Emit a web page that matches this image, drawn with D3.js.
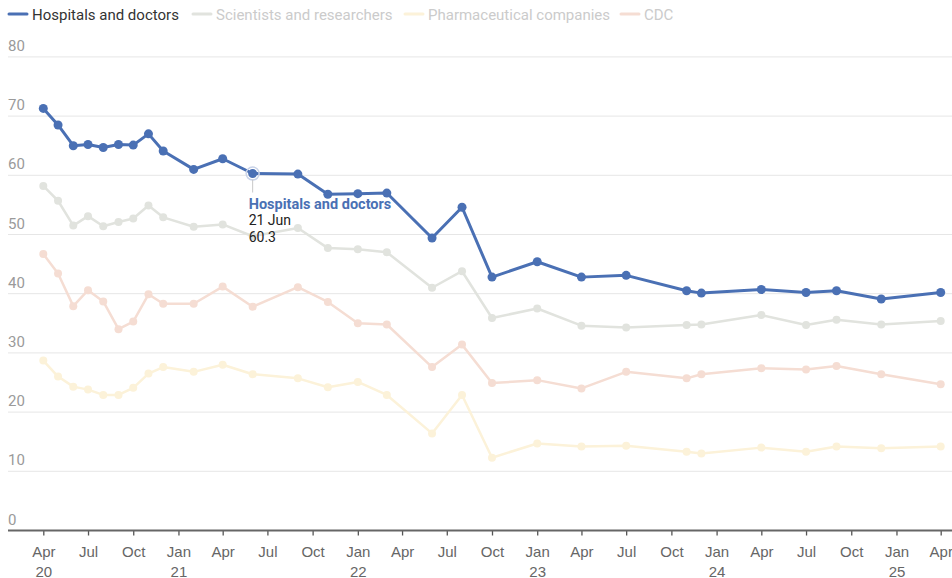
<!DOCTYPE html>
<html><head><meta charset="utf-8">
<script src="https://cdn.jsdelivr.net/npm/d3@7"></script>
<style>
html,body{margin:0;padding:0;background:#fff;}
svg{display:block;font-family:Roboto,"Noto Sans",sans-serif;}
</style></head>
<body><svg id="chart" width="952" height="578"></svg>
<script>
const dates = ["2020-04","2020-05","2020-06","2020-07","2020-08","2020-09","2020-10","2020-11","2020-12","2021-02","2021-04","2021-06","2021-09","2021-11","2022-01","2022-03","2022-06","2022-08","2022-10","2023-01","2023-04","2023-07","2023-11","2023-12","2024-04","2024-07","2024-09","2024-12","2025-04"];
const hospitals = [71.3,68.5,65.0,65.2,64.7,65.2,65.1,67.0,64.1,61.0,62.8,60.3,60.2,56.8,56.9,57.0,49.4,54.6,42.8,45.4,42.8,43.1,40.5,40.1,40.7,40.2,40.5,39.1,40.2];
const scientists = [58.2,55.7,51.5,53.1,51.4,52.1,52.7,54.9,52.9,51.3,51.7,49.7,51.1,47.7,47.5,47.0,41.0,43.8,35.9,37.5,34.6,34.3,34.7,34.8,36.4,34.7,35.6,34.8,35.4];
const pharma = [28.7,26.0,24.3,23.8,22.9,22.9,24.1,26.5,27.6,26.8,28.0,26.4,25.7,24.2,25.1,22.9,16.4,22.9,12.3,14.7,14.2,14.3,13.3,13.0,14.0,13.3,14.2,13.9,14.2];
const cdc = [46.7,43.4,37.9,40.6,38.7,34.0,35.3,39.9,38.3,38.3,41.2,37.8,41.1,38.6,35.0,34.8,27.6,31.4,24.9,25.4,24.0,26.8,25.7,26.4,27.4,27.2,27.8,26.4,24.7];
const seriesNames = ["Hospitals and doctors","Scientists and researchers","Pharmaceutical companies","CDC"];
const yTicks = [0,10,20,30,40,50,60,70,80];
const monthNames = ["Jan","Feb","Mar","Apr","May","Jun","Jul","Aug","Sep","Oct","Nov","Dec"];
const tooltipIndex = 11;

const parse = d3.timeParse("%Y-%m");
const svg = d3.select("#chart");
const x = d3.scaleTime().domain([parse("2020-04"), parse("2025-04")]).range([43.3, 940.7]);
const y = d3.scaleLinear().domain([0, 80]).range([530.5, 56.9]);

const series = [
  {name: seriesNames[1], values: scientists, color: "#e1e3de", text: "#cbcbcb", w: 2.5, r: 4},
  {name: seriesNames[2], values: pharma, color: "#fcf2d9", text: "#cbcbcb", w: 2.5, r: 4},
  {name: seriesNames[3], values: cdc, color: "#f5ddd3", text: "#cbcbcb", w: 2.5, r: 4},
  {name: seriesNames[0], values: hospitals, color: "#4a70b4", text: "#333333", w: 3, r: 4.5}
];

// gridlines + y labels
const grid = svg.append("g");
yTicks.forEach(t => {
  if (t > 0) grid.append("line").attr("x1", 8).attr("x2", 952).attr("y1", y(t)).attr("y2", y(t))
    .attr("stroke", "#e6e6e6").attr("stroke-width", 1);
  grid.append("text").attr("x", 8).attr("y", y(t) - 6).text(t)
    .attr("font-size", 15).attr("fill", "#9a9a9a");
});

// x axis
const xAxis = d3.axisBottom(x).ticks(d3.timeMonth.every(3)).tickSize(5).tickSizeOuter(0)
  .tickFormat(() => "");
const ax = svg.append("g").attr("transform", `translate(0,${y(0)})`).call(xAxis);
ax.select(".domain").remove();
ax.selectAll(".tick line").attr("stroke", "#555").attr("stroke-width", 1.3);
ax.selectAll(".tick text").remove();
ax.selectAll(".tick").each(function(d, i) {
  const g = d3.select(this);
  const t = g.append("text").attr("text-anchor", "middle").attr("fill", "#666").attr("font-size", 15);
  t.append("tspan").attr("x", 0).attr("y", 26.5).text(monthNames[d.getMonth()]);
  if (d.getMonth() === 0 || i === 0) {
    t.append("tspan").attr("x", 0).attr("y", 46).text(d3.timeFormat("%y")(d));
  }
});
svg.append("line").attr("x1", 8).attr("x2", 952).attr("y1", y(0)).attr("y2", y(0))
  .attr("stroke", "#666").attr("stroke-width", 2);

// lines
const line = d3.line().x((d, i) => x(parse(dates[i]))).y(d => y(d));
series.forEach(s => {
  const g = svg.append("g");
  g.append("path").datum(s.values).attr("d", line).attr("fill", "none")
    .attr("stroke", s.color).attr("stroke-width", s.w).attr("stroke-linejoin", "round");
  g.selectAll("circle").data(s.values).join("circle")
    .attr("cx", (d, i) => x(parse(dates[i]))).attr("cy", d => y(d)).attr("r", s.r).attr("fill", s.color);
});

// tooltip
const tx = x(parse(dates[tooltipIndex])), ty = y(hospitals[tooltipIndex]);
svg.append("circle").attr("cx", tx).attr("cy", ty).attr("r", 6.5).attr("fill", "none")
  .attr("stroke", "#c9d3e8").attr("stroke-width", 1.5);
svg.append("line").attr("x1", tx).attr("x2", tx).attr("y1", ty + 6).attr("y2", ty + 19)
  .attr("stroke", "#c8c8c8").attr("stroke-width", 1);
const tip = svg.append("g").attr("font-size", 14);
tip.append("text").attr("x", tx - 4).attr("y", ty + 35).attr("fill", "#4a70b4").attr("font-weight", "bold").attr("font-size", 14.5).text(seriesNames[0]);
tip.append("text").attr("x", tx - 4).attr("y", ty + 51.5).attr("fill", "#222").text("21 Jun");
tip.append("text").attr("x", tx - 4).attr("y", ty + 68).attr("fill", "#222").text(hospitals[tooltipIndex]);

// legend
const legendX = [9, 193, 405, 621];
const legendOrder = [series[3], series[0], series[1], series[2]];
legendOrder.forEach((s, i) => {
  const g = svg.append("g").attr("transform", `translate(${legendX[i]},14)`);
  g.append("line").attr("x1", 0).attr("x2", 18).attr("y1", 0).attr("y2", 0)
    .attr("stroke", s.color).attr("stroke-width", 3).attr("stroke-linecap", "round");
  g.append("text").attr("x", 23).attr("y", 5.5).attr("font-size", 15).attr("fill", s.text).text(s.name);
});
</script></body></html>
